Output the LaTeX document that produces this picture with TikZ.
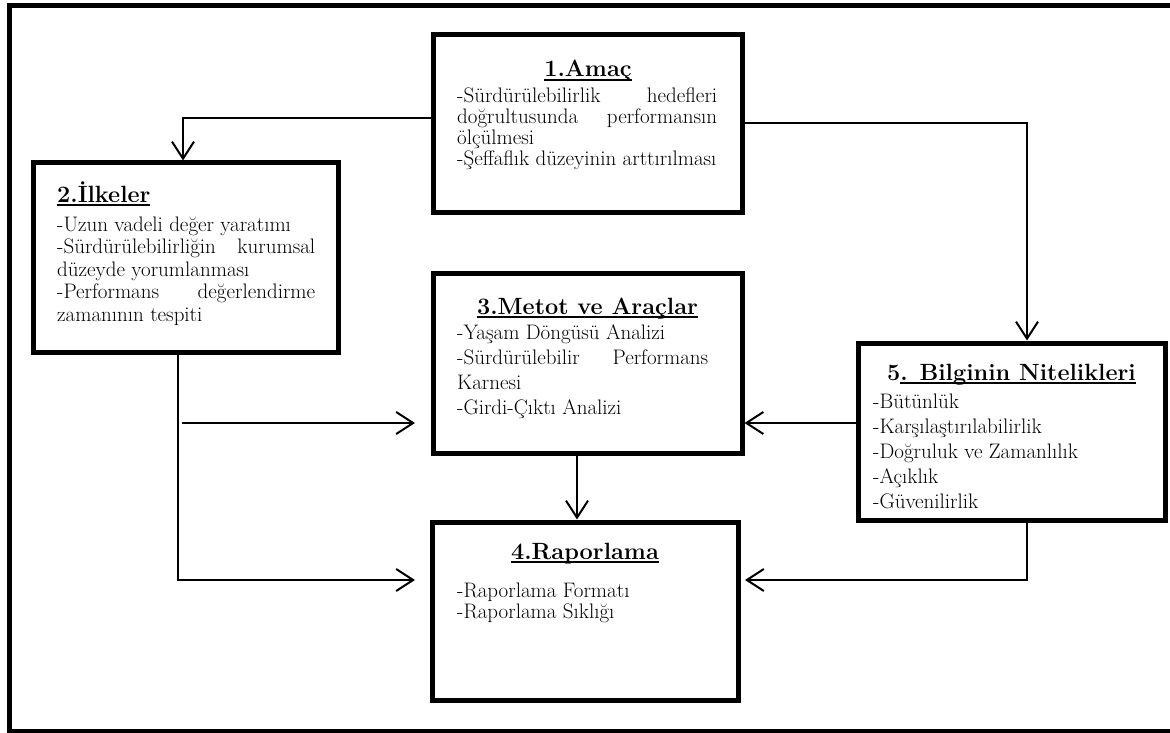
\documentclass[tikz,border=0pt]{standalone}
\usepackage{fontspec}
\usetikzlibrary{arrows.meta}
\newcommand\bodytext[2]{\vtop{\baselineskip=#1pt\lineskiplimit=-1000pt\lineskip=0pt #2}}
\newcommand\uln[1]{\setbox0=\hbox{#1}\leavevmode\rlap{\vrule width\wd0 height -1.8pt depth 4.3pt}\box0}
\begin{document}
\begin{tikzpicture}[x=1pt,y=-1pt,
  box/.style={draw,line width=5pt,inner sep=0pt,rectangle},
  ttl/.style={font=\bfseries\fontsize{23.5}{28}\selectfont,inner sep=0pt,anchor=base},
  body/.style={font=\fontsize{21}{24}\selectfont,inner sep=0pt,anchor=base west},
  conn/.style={line width=2pt},
  arr/.style={conn,-{Straight Barb[length=17pt,width=22pt]}}]
\useasboundingbox (0,0) rectangle (1170,733);
% outer frame
\draw[line width=5pt] (1172,5.5) -- (9.5,5.5) -- (9.5,731) -- (1172,731);
% boxes
\node[box,minimum width=309pt,minimum height=177pt] (b1) at (587.5,123.5) {};
\node[box,minimum width=305pt,minimum height=189pt] (b2) at (185.5,257.5) {};
\node[box,minimum width=309pt,minimum height=180pt] (b3) at (587.5,363) {};
\node[box,minimum width=307pt,minimum height=177pt] (b5) at (1011.5,431.5) {};
\node[box,minimum width=306pt,minimum height=178pt] (b4) at (585,611) {};
% titles
\node[ttl] (t1) at (588,77) {\uln{1.Amaç}};
\node[ttl,anchor=base west] (t2) at (57,202) {\uln{2.İlkeler}};
\node[ttl] (t3) at (587.5,314) {\uln{3.Metot ve Araçlar}};
\node[ttl] (t5) at (1011.5,380) {5\uln{. Bilginin Nitelikleri}};
\node[ttl] (t4) at (585,559) {\uln{4.Raporlama}};
% bodies
\node[body] (d1) at (457,103) {\bodytext{20.8}{%
  \hbox to 260pt{-Sürdürülebilirlik\hfill hedefleri}%
  \hbox to 260pt{doğrultusunda\hfill performansın}%
  \hbox{ölçülmesi}%
  \hbox{-Şeffaflık düzeyinin arttırılması}}};
\node[body] (d2) at (57,231) {\bodytext{22.5}{%
  \hbox{-Uzun vadeli değer yaratımı}%
  \hbox to 258pt{-Sürdürülebilirliğin\hfill kurumsal}%
  \hbox{düzeyde yorumlanması}%
  \hbox to 258pt{-Performans\hfill değerlendirme}%
  \hbox{zamanının tespiti}}};
\node[body] (d3) at (457,339) {\bodytext{25}{%
  \hbox{-Yaşam Döngüsü Analizi}%
  \hbox to 251pt{-Sürdürülebilir\hfill Performans}%
  \hbox{Karnesi}%
  \hbox{-Girdi-Çıktı Analizi}}};
\node[body] (d5) at (873,408) {\bodytext{25}{%
  \hbox{-Bütünlük}%
  \hbox{-Karşılaştırılabilirlik}%
  \hbox{-Doğruluk ve Zamanlılık}%
  \hbox{-Açıklık}%
  \hbox{-Güvenilirlik}}};
\node[body] (d4) at (457,597) {\bodytext{21}{%
  \hbox{-Raporlama Formatı}%
  \hbox{-Raporlama Sıklığı}}};
% connectors
\coordinate (ja) at (183,118);
\draw[arr] (b1.west |- ja) -- (ja) -- (ja |- b2.north);
\coordinate (jb) at (1027,123.5);
\draw[arr] (b1.east |- jb) -- (jb) -- (jb |- b5.north);
\coordinate (jc) at (178,580);
\draw[arr,shorten >=14.5pt] (b2.south -| jc) -- (jc) -- (jc -| b4.west);
\coordinate (jd) at (182,423);
\draw[arr,shorten >=15.5pt] (jd) -- (jd -| b3.west);
\draw[arr] (jd -| b5.west) -- (jd -| b3.east);
\coordinate (je) at (577,0);
\draw[arr] (b3.south -| je) -- (b4.north -| je);
\draw[arr,shorten >=4.5pt] (b5.south -| jb) -- (jc -| jb) -- (jc -| b4.east);
\end{tikzpicture}
\end{document}
